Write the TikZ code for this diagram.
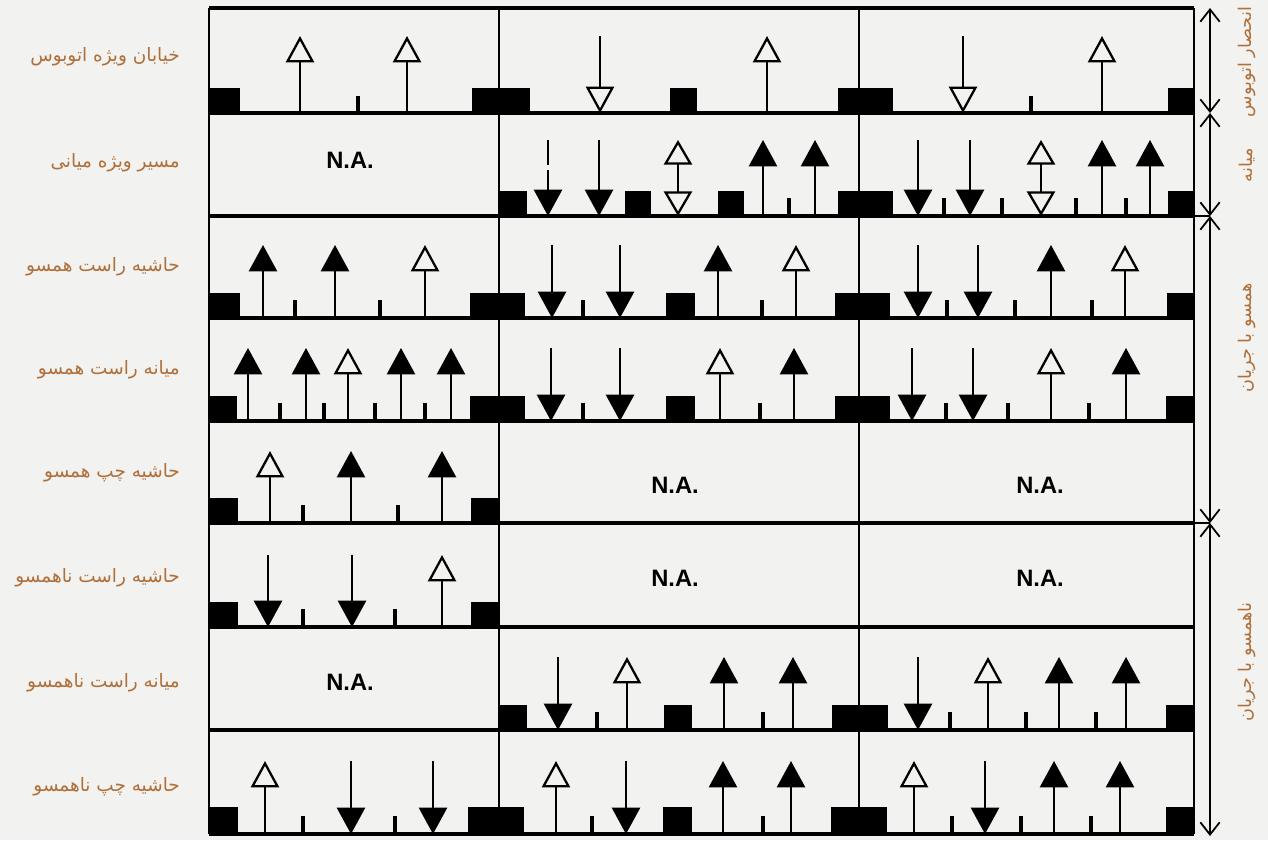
\documentclass[tikz,border=0pt]{standalone}
\usepackage{fontspec}
\setsansfont{Liberation Sans}
\newfontfamily\persianfont[Script=Arabic]{DejaVu Sans}
\TeXXeTstate=1
\usepackage{tikz}
\usetikzlibrary{arrows.meta}

\definecolor{paper}{RGB}{242,242,240}
\definecolor{labelbrown}{RGB}{176,110,56}

\begin{document}
\begin{tikzpicture}[x=0.02cm, y=-0.02cm,
    gridline/.style={line width=2pt},
    divider/.style={line width=1.5pt},
    openarr/.style={line width=1.3pt, -{Triangle[open, length=15pt, width=16pt]}},
    fillarr/.style={line width=1.3pt, -{Triangle[length=15pt, width=16pt]}},
    dblarr/.style={line width=1.3pt, {Triangle[open, length=14pt, width=16pt]}-{Triangle[open, length=14pt, width=16pt]}},
    lanemark/.style={line width=2pt},
    lanelabel/.style={anchor=east, text=labelbrown, font=\persianfont\fontsize{10.5}{12}\selectfont},
    grouplabel/.style={rotate=90, text=labelbrown, font=\persianfont\fontsize{10}{12}\selectfont},
    na/.style={font=\sffamily\bfseries\fontsize{13.5}{15}\selectfont},
    dimline/.style={line width=1pt, {Straight Barb[length=7pt, width=11pt]}-{Straight Barb[length=7pt, width=11pt]}}
  ]
    % Paper
    \fill[paper] (0,0) rectangle (1268,840);
    \useasboundingbox (0,0) rectangle (1268,840);

    % Table frame
    \draw[gridline] (209,8) -- (1194,8);
    \foreach \y in {113,216,318,421,523,627,730,834}
      \draw[gridline] (209,\y) -- (1194,\y);
    \foreach \x in {209,499,859,1194}
      \draw[divider] (\x,8) -- (\x,834);

    % Row 1: bus street
    \foreach \x in {300,407,767,1102} \draw[openarr] (\x,113) -- (\x,36);
    \foreach \x in {600,963} \draw[openarr] (\x,36) -- (\x,113);
    \foreach \x in {358,1031} \draw[lanemark] (\x,113) -- (\x,96);
    \foreach \a/\b in {209/240,472/530,670/697,838/893,1168/1194}
      \fill (\a,113) rectangle (\b,88);

    % Row 2: median busway
    \node[na] (na1) at (350,160) {N.A.};
    \draw[fillarr, dash pattern=on 14pt off 3pt] (548,140) -- (548,216);
    \foreach \x in {599,918,970} \draw[fillarr] (\x,140) -- (\x,216);
    \foreach \x in {763,815,1102,1150} \draw[fillarr] (\x,216) -- (\x,140);
    \foreach \x in {678,1041} \draw[dblarr] (\x,216) -- (\x,140);
    \foreach \x in {789,944,1002,1076,1126} \draw[lanemark] (\x,216) -- (\x,198);
    \foreach \a/\b in {499/527,625/651,718/744,838/893,1168/1194}
      \fill (\a,216) rectangle (\b,191);

    % Row 3
    \foreach \x in {263,335,718,1051} \draw[fillarr] (\x,318) -- (\x,245);
    \foreach \x in {425,796,1125} \draw[openarr] (\x,318) -- (\x,245);
    \foreach \x in {552,620,918,978} \draw[fillarr] (\x,245) -- (\x,318);
    \foreach \x in {295,380,583,762,947,1015,1092} \draw[lanemark] (\x,318) -- (\x,300);
    \foreach \a/\b in {209/240,470/525,666/695,835/890,1167/1194}
      \fill (\a,318) rectangle (\b,293);

    % Row 4
    \foreach \x in {248,306,401,451,794,1126} \draw[fillarr] (\x,421) -- (\x,348);
    \foreach \x in {348,720,1051} \draw[openarr] (\x,421) -- (\x,348);
    \foreach \x in {551,620,912,973} \draw[fillarr] (\x,348) -- (\x,421);
    \foreach \x in {280,324,375,425,583,760,946,1008,1089} \draw[lanemark] (\x,421) -- (\x,403);
    \foreach \a/\b in {209/237,470/525,666/695,835/890,1166/1194}
      \fill (\a,421) rectangle (\b,396);

    % Row 5
    \draw[openarr] (270,523) -- (270,451);
    \foreach \x in {351,442} \draw[fillarr] (\x,523) -- (\x,451);
    \foreach \x in {303,398} \draw[lanemark] (\x,523) -- (\x,505);
    \foreach \a/\b in {209/238,471/499}
      \fill (\a,523) rectangle (\b,498);
    \node[na] (na2) at (675,485) {N.A.};
    \node[na] (na3) at (1040,485) {N.A.};

    % Row 6
    \foreach \x in {268,352} \draw[fillarr] (\x,555) -- (\x,627);
    \draw[openarr] (442,627) -- (442,555);
    \foreach \x in {303,395} \draw[lanemark] (\x,627) -- (\x,609);
    \foreach \a/\b in {209/238,471/499}
      \fill (\a,627) rectangle (\b,602);
    \node[na] (na4) at (675,578) {N.A.};
    \node[na] (na5) at (1040,578) {N.A.};

    % Row 7
    \node[na] (na6) at (350,682) {N.A.};
    \foreach \x in {558,918} \draw[fillarr] (\x,657) -- (\x,730);
    \foreach \x in {627,988} \draw[openarr] (\x,730) -- (\x,657);
    \foreach \x in {724,793,1059,1126} \draw[fillarr] (\x,730) -- (\x,657);
    \foreach \x in {597,763,950,1026,1096} \draw[lanemark] (\x,730) -- (\x,712);
    \foreach \a/\b in {499/527,664/692,832/888,1166/1194}
      \fill (\a,730) rectangle (\b,705);

    % Row 8
    \foreach \x in {265,556,914} \draw[openarr] (\x,834) -- (\x,761);
    \foreach \x in {351,433,626,985} \draw[fillarr] (\x,761) -- (\x,834);
    \foreach \x in {723,791,1054,1120} \draw[fillarr] (\x,834) -- (\x,761);
    \foreach \x in {303,395,592,763,952,1021,1091} \draw[lanemark] (\x,834) -- (\x,816);
    \foreach \a/\b in {209/238,468/524,663/692,831/887,1166/1194}
      \fill (\a,834) rectangle (\b,807);

    % Lane names
    \node[lanelabel] (lab1) at (186,57) {\beginR خیابان ویژه اتوبوس\endR};
    \node[lanelabel] (lab2) at (186,163) {\beginR مسیر ویژه میانی\endR};
    \node[lanelabel] (lab3) at (186,267) {\beginR حاشیه راست همسو\endR};
    \node[lanelabel] (lab4) at (186,370) {\beginR میانه راست همسو\endR};
    \node[lanelabel] (lab5) at (186,473) {\beginR حاشیه چپ همسو\endR};
    \node[lanelabel] (lab6) at (186,578) {\beginR حاشیه راست ناهمسو\endR};
    \node[lanelabel] (lab7) at (186,683) {\beginR میانه راست ناهمسو\endR};
    \node[lanelabel] (lab8) at (186,787) {\beginR حاشیه چپ ناهمسو\endR};

    % Groups on the right
    \coordinate (d0) at (1210,8);
    \coordinate (d1) at (1210,113);
    \coordinate (d2) at (1210,216);
    \coordinate (d3) at (1210,523);
    \coordinate (d4) at (1210,836);
    \draw[line width=1pt] (1194,216) -- (d2);
    \draw[line width=1pt] (1194,523) -- (d3);
    \draw[dimline] (d0) -- (d1);
    \draw[dimline] (d1) -- (d2);
    \draw[dimline] (d2) -- (d3);
    \draw[dimline] (d3) -- (d4);
    \node[grouplabel] (grp1) at (1247,62) {\beginR انحصار اتوبوس\endR};
    \node[grouplabel] (grp2) at (1247,165) {\beginR میانه\endR};
    \node[grouplabel] (grp3) at (1247,338) {\beginR همسو با جریان\endR};
    \node[grouplabel] (grp4) at (1247,662) {\beginR ناهمسو با جریان\endR};
\end{tikzpicture}
\end{document}
